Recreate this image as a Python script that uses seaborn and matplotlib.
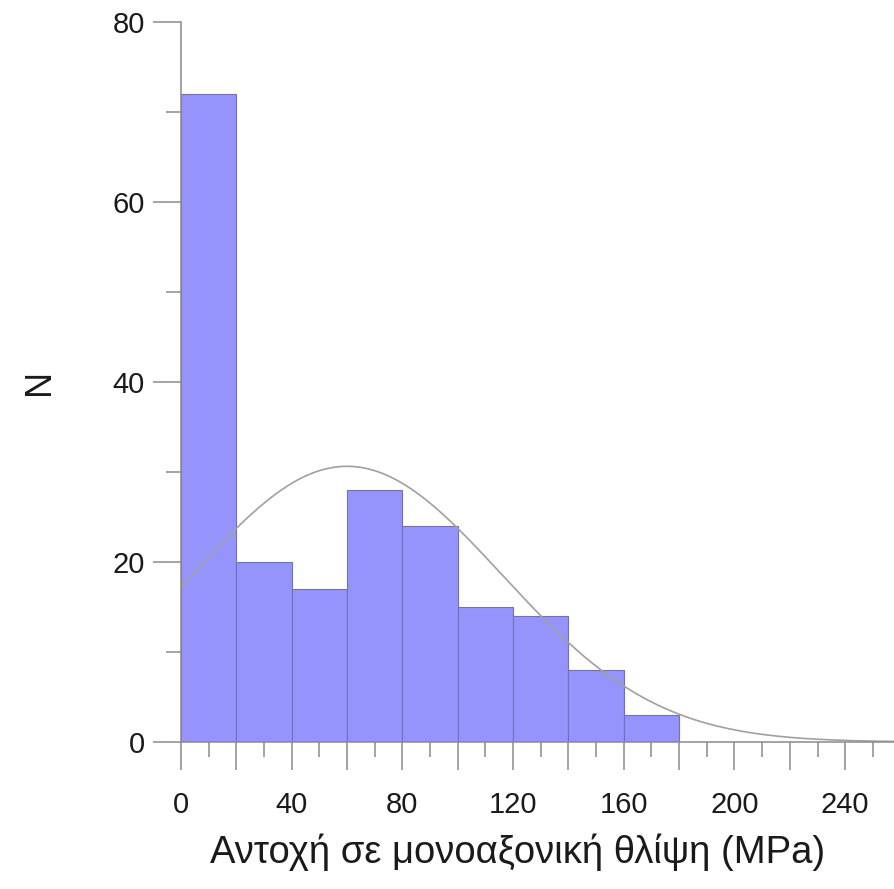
import numpy as np
import pandas as pd
import matplotlib
matplotlib.use("Agg")
import matplotlib.pyplot as plt
from matplotlib.ticker import MultipleLocator
import seaborn as sns

# Histogram of uniaxial compressive strength (bins of 20 MPa)
bin_edges = [0, 20, 40, 60, 80, 100, 120, 140, 160, 180]
counts = [72, 20, 17, 28, 24, 15, 14, 8, 3]

# Fitted normal curve parameters
fit_mean = 60.0
fit_sd = 56.0
fit_area = 4300.0  # count x bin width

x_ticks = [0, 40, 80, 120, 160, 200, 240]
y_ticks = [0, 20, 40, 60, 80]
x_label = "Αντοχή σε μονοαξονική θλίψη (MPa)"
y_label = "N"

sns.set_style("ticks")
plt.rcParams["font.family"] = ["Liberation Sans", "DejaVu Sans"]

fig = plt.figure(figsize=(8.95, 8.89), dpi=100)
ax = fig.add_axes([181 / 895, 147 / 889, 1 - 181 / 895, 720 / 889])

centers = [(a + b) / 2 for a, b in zip(bin_edges[:-1], bin_edges[1:])]
df = pd.DataFrame({"strength": centers, "n": counts})
sns.histplot(data=df, x="strength", weights="n", bins=bin_edges, ax=ax,
             color="#9494fc", alpha=1.0, edgecolor="#7070b8", linewidth=0.8)

xs = np.linspace(0, 258, 400)
ys = fit_area / (fit_sd * np.sqrt(2 * np.pi)) * np.exp(-0.5 * ((xs - fit_mean) / fit_sd) ** 2)
sns.lineplot(x=xs, y=ys, ax=ax, color="#a0a0a0", linewidth=1.2)

ax.set_xlim(0, 258)
ax.set_ylim(0, 80)
ax.set_xticks(np.arange(0, 260, 20))
ax.set_xticklabels([str(v) if v in x_ticks else "" for v in range(0, 260, 20)])
ax.xaxis.set_minor_locator(MultipleLocator(10))
ax.set_yticks(y_ticks)
ax.set_yticklabels([str(v) for v in y_ticks])
ax.yaxis.set_minor_locator(MultipleLocator(10))

ax.tick_params(axis="both", which="major", length=20, width=1.1, color="#8a8a8a",
               labelsize=21, labelcolor="#1a1a1a")
ax.tick_params(axis="x", which="major", pad=15)
ax.tick_params(axis="y", which="major", pad=6)
ax.tick_params(axis="both", which="minor", length=11, width=1.1, color="#8a8a8a")

for side in ["top", "right"]:
    ax.spines[side].set_visible(False)
for side in ["left", "bottom"]:
    ax.spines[side].set_color("#8a8a8a")
    ax.spines[side].set_linewidth(1.1)

ax.set_xlabel("")
ax.set_ylabel("")
fig.text(518 / 895, 1 - 852 / 889, x_label, ha="center", va="center",
         fontsize=27.5, color="#1a1a1a")
fig.text(40 / 895, 1 - 382 / 889, y_label, ha="center", va="center",
         fontsize=26, rotation=90, color="#1a1a1a")

fig.savefig("out.png", dpi=100)
